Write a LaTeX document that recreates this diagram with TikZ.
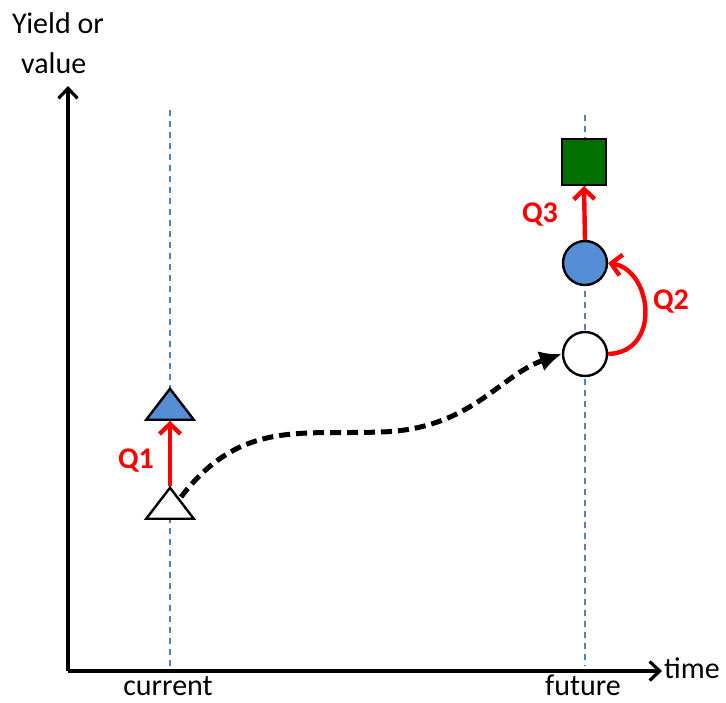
\documentclass[tikz,border=0pt]{standalone}
\usepackage{fontspec}
\setmainfont{Carlito}
\usetikzlibrary{arrows.meta,shapes.geometric}
\definecolor{qred}{RGB}{255,0,0}
\definecolor{mblue}{RGB}{85,142,213}
\definecolor{dgreen}{RGB}{0,112,0}
\definecolor{gblue}{RGB}{79,129,189}
\begin{document}
\begin{tikzpicture}[x=1pt,y=-1pt,
  axis/.style={line width=3.2pt,-{Straight Barb[length=10pt,width=19pt,line width=3.2pt]}},
  guide/.style={gblue,line width=1.5pt,dash pattern=on 6pt off 5pt},
  qarrow/.style={qred,line width=4.4pt,-{Straight Barb[length=10pt,width=21pt,line width=4.4pt]}},
  qlabel/.style={text=qred,font=\fontsize{30}{34}\selectfont\bfseries,inner sep=0pt},
  lbl/.style={font=\fontsize{30}{34}\selectfont,inner sep=0pt},
  tri/.style={draw=black,line width=2.4pt,isosceles triangle,isosceles triangle apex angle=75,shape border rotate=90,minimum width=41pt,minimum height=31pt,inner sep=0pt},
  circ/.style={draw=black,line width=2.4pt,circle,minimum size=44pt,inner sep=0pt}]
\useasboundingbox (0,0) rectangle (726,702);
% guides
\draw[guide] (170,110) -- (170,666);
\draw[guide] (585,115) -- (585,666);
% axes
\coordinate (o) at (68,671);
\coordinate (ytip) at (68,86);
\coordinate (xtip) at (662,671);
\draw[axis] (o) -- (ytip);
\draw[axis] (o) -- (xtip);
\node[lbl,anchor=base west] (time) at (664,678) {time};
\node[lbl,anchor=base west] (ylab1) at (12,33) {Yield or};
\node[lbl,anchor=base west] (ylab2) at (21,73) {value};
\node[lbl,anchor=base] (cur) at (168,695) {current};
\node[lbl,anchor=base] (fut) at (583,695) {future};
% shapes
\node[tri,fill=white] (t0) at (170,507) {};
\node[tri,fill=mblue] (t1) at (170,408) {};
\node[circ,fill=white] (c0) at (585,354) {};
\node[circ,fill=mblue] (c1) at (585,263) {};
\node[draw=black,line width=2.4pt,fill=dgreen,minimum width=44pt,minimum height=46pt,inner sep=0pt] (sq) at (584,162) {};
% arrows
\draw[qarrow] (t0.north) -- (t1.south);
\node[qlabel,anchor=base] (q1) at (136,468) {Q1};
\draw[qarrow] (c1.north) -- (sq.south);
\node[qlabel,anchor=base] (q3) at (540,222) {Q3};
\draw[qarrow] (c0.east) .. controls (662,352) and (652,270) .. (c1.east);
\node[qlabel,anchor=base] (q2) at (671,309) {Q2};
\draw[line width=5pt,dash pattern=on 11pt off 6pt,-{Latex[length=22pt,width=21pt]}]
  (181,497) .. controls (240,420) and (300,435) .. (380,432)
  .. controls (470,430) and (500,375) .. (c0.west);
\end{tikzpicture}
\end{document}
